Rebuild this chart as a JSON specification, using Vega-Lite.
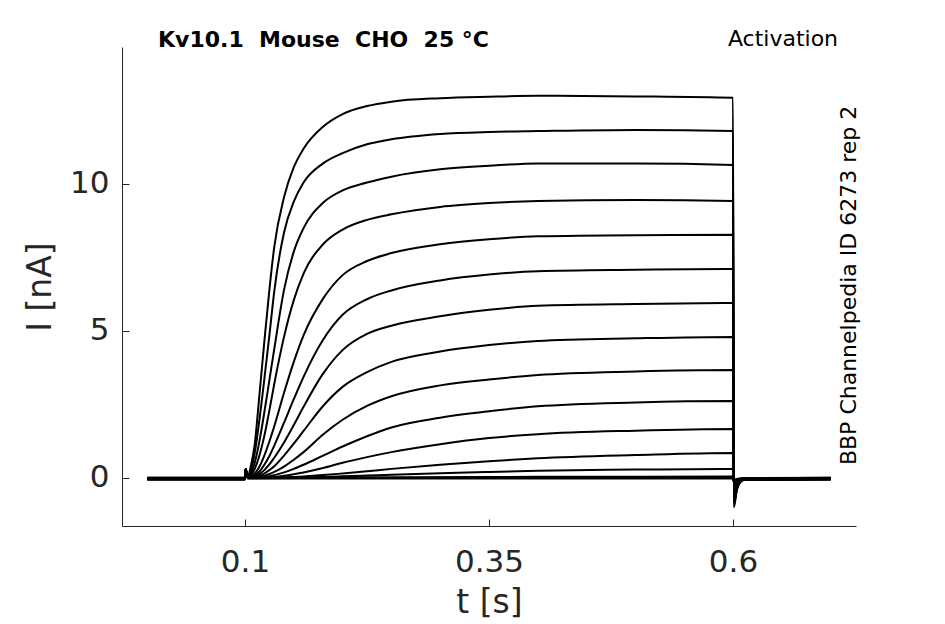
{
  "$schema": "https://vega.github.io/schema/vega-lite/v6.json",
  "width": 734,
  "height": 479,
  "autosize": {"type": "none"},
  "padding": {"left": 122, "top": 47, "right": 89, "bottom": 98},
  "background": "white",
  "data": {
    "values": [
      {"k":1,"t":0,"i":-0.03},{"k":1,"t":0.1,"i":-0.03},{"k":1,"t":0.1006,"i":0.3},{"k":1,"t":0.103,"i":0.065},{"k":1,"t":0.106,"i":0.4},{"k":1,"t":0.11,"i":1.15},{"k":1,"t":0.115,"i":2.9},{"k":1,"t":0.12,"i":4.7},{"k":1,"t":0.125,"i":6.4},{"k":1,"t":0.13,"i":7.86},{"k":1,"t":0.14,"i":9.55},{"k":1,"t":0.15,"i":10.57},{"k":1,"t":0.16,"i":11.2},{"k":1,"t":0.18,"i":11.95},{"k":1,"t":0.2,"i":12.38},{"k":1,"t":0.225,"i":12.65},{"k":1,"t":0.25,"i":12.8},{"k":1,"t":0.3,"i":12.92},{"k":1,"t":0.35,"i":12.97},{"k":1,"t":0.4,"i":13.0},{"k":1,"t":0.5,"i":12.98},{"k":1,"t":0.6,"i":12.93},{"k":1,"t":0.6008,"i":-1.0},{"k":1,"t":0.604,"i":-0.4},{"k":1,"t":0.607,"i":-0.17},{"k":1,"t":0.612,"i":-0.05},{"k":1,"t":0.7,"i":-0.03},
      {"k":2,"t":0,"i":-0.01},{"k":2,"t":0.1,"i":-0.01},{"k":2,"t":0.1006,"i":0.3},{"k":2,"t":0.103,"i":0.04},{"k":2,"t":0.106,"i":0.25},{"k":2,"t":0.11,"i":0.86},{"k":2,"t":0.115,"i":2.03},{"k":2,"t":0.12,"i":3.41},{"k":2,"t":0.125,"i":4.85},{"k":2,"t":0.13,"i":6.35},{"k":2,"t":0.14,"i":8.35},{"k":2,"t":0.15,"i":9.4},{"k":2,"t":0.16,"i":10.05},{"k":2,"t":0.18,"i":10.7},{"k":2,"t":0.2,"i":11.05},{"k":2,"t":0.225,"i":11.35},{"k":2,"t":0.25,"i":11.52},{"k":2,"t":0.3,"i":11.7},{"k":2,"t":0.35,"i":11.77},{"k":2,"t":0.4,"i":11.8},{"k":2,"t":0.5,"i":11.84},{"k":2,"t":0.6,"i":11.8},{"k":2,"t":0.6008,"i":-0.93},{"k":2,"t":0.604,"i":-0.37},{"k":2,"t":0.607,"i":-0.16},{"k":2,"t":0.612,"i":-0.03},{"k":2,"t":0.7,"i":-0.01},
      {"k":3,"t":0,"i":-0.04},{"k":3,"t":0.1,"i":-0.04},{"k":3,"t":0.1006,"i":0.3},{"k":3,"t":0.103,"i":0.02},{"k":3,"t":0.106,"i":0.145},{"k":3,"t":0.11,"i":0.52},{"k":3,"t":0.115,"i":1.29},{"k":3,"t":0.12,"i":2.27},{"k":3,"t":0.125,"i":3.33},{"k":3,"t":0.13,"i":4.39},{"k":3,"t":0.14,"i":6.4},{"k":3,"t":0.15,"i":7.7},{"k":3,"t":0.16,"i":8.5},{"k":3,"t":0.18,"i":9.36},{"k":3,"t":0.2,"i":9.78},{"k":3,"t":0.225,"i":10.05},{"k":3,"t":0.25,"i":10.25},{"k":3,"t":0.3,"i":10.5},{"k":3,"t":0.35,"i":10.62},{"k":3,"t":0.4,"i":10.7},{"k":3,"t":0.5,"i":10.7},{"k":3,"t":0.6,"i":10.65},{"k":3,"t":0.6008,"i":-0.85},{"k":3,"t":0.604,"i":-0.34},{"k":3,"t":0.607,"i":-0.14},{"k":3,"t":0.612,"i":-0.06},{"k":3,"t":0.7,"i":-0.04},
      {"k":4,"t":0,"i":0.0},{"k":4,"t":0.1,"i":0.0},{"k":4,"t":0.1006,"i":0.3},{"k":4,"t":0.103,"i":0.012},{"k":4,"t":0.106,"i":0.08},{"k":4,"t":0.11,"i":0.31},{"k":4,"t":0.115,"i":0.79},{"k":4,"t":0.12,"i":1.46},{"k":4,"t":0.125,"i":2.3},{"k":4,"t":0.13,"i":3.2},{"k":4,"t":0.14,"i":4.8},{"k":4,"t":0.15,"i":6.05},{"k":4,"t":0.16,"i":6.95},{"k":4,"t":0.18,"i":7.95},{"k":4,"t":0.2,"i":8.45},{"k":4,"t":0.225,"i":8.78},{"k":4,"t":0.25,"i":8.97},{"k":4,"t":0.3,"i":9.22},{"k":4,"t":0.35,"i":9.35},{"k":4,"t":0.4,"i":9.42},{"k":4,"t":0.5,"i":9.46},{"k":4,"t":0.6,"i":9.42},{"k":4,"t":0.6008,"i":-0.77},{"k":4,"t":0.604,"i":-0.31},{"k":4,"t":0.607,"i":-0.13},{"k":4,"t":0.612,"i":-0.02},{"k":4,"t":0.7,"i":0.0},
      {"k":5,"t":0,"i":-0.02},{"k":5,"t":0.1,"i":-0.02},{"k":5,"t":0.1006,"i":0.3},{"k":5,"t":0.103,"i":0.005},{"k":5,"t":0.106,"i":0.04},{"k":5,"t":0.11,"i":0.15},{"k":5,"t":0.115,"i":0.4},{"k":5,"t":0.12,"i":0.78},{"k":5,"t":0.125,"i":1.24},{"k":5,"t":0.13,"i":1.76},{"k":5,"t":0.14,"i":2.9},{"k":5,"t":0.15,"i":3.95},{"k":5,"t":0.16,"i":4.85},{"k":5,"t":0.18,"i":6.1},{"k":5,"t":0.2,"i":6.9},{"k":5,"t":0.225,"i":7.38},{"k":5,"t":0.25,"i":7.65},{"k":5,"t":0.3,"i":7.95},{"k":5,"t":0.35,"i":8.12},{"k":5,"t":0.4,"i":8.22},{"k":5,"t":0.5,"i":8.26},{"k":5,"t":0.6,"i":8.27},{"k":5,"t":0.6008,"i":-0.69},{"k":5,"t":0.604,"i":-0.28},{"k":5,"t":0.607,"i":-0.12},{"k":5,"t":0.612,"i":-0.04},{"k":5,"t":0.7,"i":-0.02},
      {"k":6,"t":0,"i":-0.05},{"k":6,"t":0.1,"i":-0.05},{"k":6,"t":0.1006,"i":0.3},{"k":6,"t":0.103,"i":0.003},{"k":6,"t":0.106,"i":0.02},{"k":6,"t":0.11,"i":0.08},{"k":6,"t":0.115,"i":0.23},{"k":6,"t":0.12,"i":0.46},{"k":6,"t":0.125,"i":0.75},{"k":6,"t":0.13,"i":1.1},{"k":6,"t":0.14,"i":1.88},{"k":6,"t":0.15,"i":2.68},{"k":6,"t":0.16,"i":3.44},{"k":6,"t":0.18,"i":4.7},{"k":6,"t":0.2,"i":5.55},{"k":6,"t":0.225,"i":6.08},{"k":6,"t":0.25,"i":6.38},{"k":6,"t":0.3,"i":6.72},{"k":6,"t":0.35,"i":6.92},{"k":6,"t":0.4,"i":7.03},{"k":6,"t":0.5,"i":7.08},{"k":6,"t":0.6,"i":7.11},{"k":6,"t":0.6008,"i":-0.62},{"k":6,"t":0.604,"i":-0.25},{"k":6,"t":0.607,"i":-0.11},{"k":6,"t":0.612,"i":-0.07},{"k":6,"t":0.7,"i":-0.05},
      {"k":7,"t":0,"i":-0.01},{"k":7,"t":0.1,"i":-0.01},{"k":7,"t":0.1006,"i":0.3},{"k":7,"t":0.103,"i":0.002},{"k":7,"t":0.106,"i":0.012},{"k":7,"t":0.11,"i":0.047},{"k":7,"t":0.115,"i":0.136},{"k":7,"t":0.12,"i":0.275},{"k":7,"t":0.125,"i":0.46},{"k":7,"t":0.13,"i":0.69},{"k":7,"t":0.14,"i":1.21},{"k":7,"t":0.15,"i":1.8},{"k":7,"t":0.16,"i":2.42},{"k":7,"t":0.18,"i":3.55},{"k":7,"t":0.2,"i":4.35},{"k":7,"t":0.225,"i":4.9},{"k":7,"t":0.25,"i":5.18},{"k":7,"t":0.3,"i":5.5},{"k":7,"t":0.35,"i":5.72},{"k":7,"t":0.4,"i":5.86},{"k":7,"t":0.5,"i":5.92},{"k":7,"t":0.6,"i":5.95},{"k":7,"t":0.6008,"i":-0.54},{"k":7,"t":0.604,"i":-0.22},{"k":7,"t":0.607,"i":-0.09},{"k":7,"t":0.612,"i":-0.03},{"k":7,"t":0.7,"i":-0.01},
      {"k":8,"t":0,"i":-0.03},{"k":8,"t":0.1,"i":-0.03},{"k":8,"t":0.1006,"i":0.3},{"k":8,"t":0.103,"i":0.001},{"k":8,"t":0.106,"i":0.006},{"k":8,"t":0.11,"i":0.026},{"k":8,"t":0.115,"i":0.076},{"k":8,"t":0.12,"i":0.156},{"k":8,"t":0.125,"i":0.27},{"k":8,"t":0.13,"i":0.4},{"k":8,"t":0.14,"i":0.76},{"k":8,"t":0.15,"i":1.17},{"k":8,"t":0.16,"i":1.6},{"k":8,"t":0.18,"i":2.45},{"k":8,"t":0.2,"i":3.1},{"k":8,"t":0.225,"i":3.6},{"k":8,"t":0.25,"i":3.95},{"k":8,"t":0.3,"i":4.3},{"k":8,"t":0.35,"i":4.52},{"k":8,"t":0.4,"i":4.66},{"k":8,"t":0.5,"i":4.75},{"k":8,"t":0.6,"i":4.8},{"k":8,"t":0.6008,"i":-0.47},{"k":8,"t":0.604,"i":-0.19},{"k":8,"t":0.607,"i":-0.08},{"k":8,"t":0.612,"i":-0.05},{"k":8,"t":0.7,"i":-0.03},
      {"k":9,"t":0,"i":0.01},{"k":9,"t":0.1,"i":0.01},{"k":9,"t":0.1006,"i":0.3},{"k":9,"t":0.103,"i":0.0},{"k":9,"t":0.106,"i":0.003},{"k":9,"t":0.11,"i":0.012},{"k":9,"t":0.115,"i":0.036},{"k":9,"t":0.12,"i":0.077},{"k":9,"t":0.125,"i":0.134},{"k":9,"t":0.13,"i":0.207},{"k":9,"t":0.14,"i":0.39},{"k":9,"t":0.15,"i":0.62},{"k":9,"t":0.16,"i":0.88},{"k":9,"t":0.18,"i":1.48},{"k":9,"t":0.2,"i":1.98},{"k":9,"t":0.225,"i":2.45},{"k":9,"t":0.25,"i":2.78},{"k":9,"t":0.3,"i":3.15},{"k":9,"t":0.35,"i":3.35},{"k":9,"t":0.4,"i":3.5},{"k":9,"t":0.5,"i":3.62},{"k":9,"t":0.6,"i":3.67},{"k":9,"t":0.6008,"i":-0.39},{"k":9,"t":0.604,"i":-0.16},{"k":9,"t":0.607,"i":-0.07},{"k":9,"t":0.612,"i":-0.01},{"k":9,"t":0.7,"i":0.01},
      {"k":10,"t":0,"i":-0.04},{"k":10,"t":0.1,"i":-0.04},{"k":10,"t":0.1006,"i":0.3},{"k":10,"t":0.103,"i":0.0},{"k":10,"t":0.106,"i":0.001},{"k":10,"t":0.11,"i":0.005},{"k":10,"t":0.115,"i":0.016},{"k":10,"t":0.12,"i":0.035},{"k":10,"t":0.125,"i":0.062},{"k":10,"t":0.13,"i":0.097},{"k":10,"t":0.14,"i":0.19},{"k":10,"t":0.15,"i":0.31},{"k":10,"t":0.16,"i":0.45},{"k":10,"t":0.18,"i":0.76},{"k":10,"t":0.2,"i":1.07},{"k":10,"t":0.225,"i":1.42},{"k":10,"t":0.25,"i":1.72},{"k":10,"t":0.3,"i":2.05},{"k":10,"t":0.35,"i":2.27},{"k":10,"t":0.4,"i":2.44},{"k":10,"t":0.5,"i":2.57},{"k":10,"t":0.6,"i":2.62},{"k":10,"t":0.6008,"i":-0.32},{"k":10,"t":0.604,"i":-0.13},{"k":10,"t":0.607,"i":-0.05},{"k":10,"t":0.612,"i":-0.06},{"k":10,"t":0.7,"i":-0.04},
      {"k":11,"t":0,"i":-0.02},{"k":11,"t":0.1,"i":-0.02},{"k":11,"t":0.1006,"i":0.3},{"k":11,"t":0.103,"i":0.0},{"k":11,"t":0.106,"i":0.0},{"k":11,"t":0.11,"i":0.002},{"k":11,"t":0.115,"i":0.006},{"k":11,"t":0.12,"i":0.013},{"k":11,"t":0.125,"i":0.024},{"k":11,"t":0.13,"i":0.038},{"k":11,"t":0.14,"i":0.077},{"k":11,"t":0.15,"i":0.13},{"k":11,"t":0.16,"i":0.19},{"k":11,"t":0.18,"i":0.34},{"k":11,"t":0.2,"i":0.52},{"k":11,"t":0.225,"i":0.71},{"k":11,"t":0.25,"i":0.88},{"k":11,"t":0.3,"i":1.15},{"k":11,"t":0.35,"i":1.36},{"k":11,"t":0.4,"i":1.49},{"k":11,"t":0.5,"i":1.61},{"k":11,"t":0.6,"i":1.67},{"k":11,"t":0.6008,"i":-0.26},{"k":11,"t":0.604,"i":-0.1},{"k":11,"t":0.607,"i":-0.04},{"k":11,"t":0.612,"i":-0.04},{"k":11,"t":0.7,"i":-0.02},
      {"k":12,"t":0,"i":0.0},{"k":12,"t":0.1,"i":0.0},{"k":12,"t":0.1006,"i":0.3},{"k":12,"t":0.103,"i":0.0},{"k":12,"t":0.12,"i":0.003},{"k":12,"t":0.125,"i":0.006},{"k":12,"t":0.13,"i":0.009},{"k":12,"t":0.14,"i":0.019},{"k":12,"t":0.15,"i":0.034},{"k":12,"t":0.16,"i":0.052},{"k":12,"t":0.18,"i":0.098},{"k":12,"t":0.2,"i":0.154},{"k":12,"t":0.225,"i":0.23},{"k":12,"t":0.25,"i":0.31},{"k":12,"t":0.3,"i":0.45},{"k":12,"t":0.35,"i":0.57},{"k":12,"t":0.4,"i":0.67},{"k":12,"t":0.5,"i":0.78},{"k":12,"t":0.6,"i":0.85},{"k":12,"t":0.6008,"i":-0.21},{"k":12,"t":0.604,"i":-0.08},{"k":12,"t":0.607,"i":-0.04},{"k":12,"t":0.612,"i":-0.02},{"k":12,"t":0.7,"i":0.0},
      {"k":13,"t":0,"i":-0.03},{"k":13,"t":0.1,"i":-0.03},{"k":13,"t":0.1006,"i":0.3},{"k":13,"t":0.103,"i":0.0},{"k":13,"t":0.12,"i":0.001},{"k":13,"t":0.125,"i":0.002},{"k":13,"t":0.13,"i":0.003},{"k":13,"t":0.14,"i":0.007},{"k":13,"t":0.15,"i":0.012},{"k":13,"t":0.16,"i":0.019},{"k":13,"t":0.18,"i":0.036},{"k":13,"t":0.2,"i":0.056},{"k":13,"t":0.225,"i":0.084},{"k":13,"t":0.25,"i":0.113},{"k":13,"t":0.3,"i":0.164},{"k":13,"t":0.35,"i":0.208},{"k":13,"t":0.4,"i":0.245},{"k":13,"t":0.5,"i":0.285},{"k":13,"t":0.6,"i":0.31},{"k":13,"t":0.6008,"i":-0.17},{"k":13,"t":0.604,"i":-0.07},{"k":13,"t":0.607,"i":-0.03},{"k":13,"t":0.612,"i":-0.05},{"k":13,"t":0.7,"i":-0.03},
      {"k":14,"t":0,"i":-0.01},{"k":14,"t":0.1,"i":-0.01},{"k":14,"t":0.1006,"i":0.3},{"k":14,"t":0.103,"i":-0.01},{"k":14,"t":0.2,"i":0.01},{"k":14,"t":0.3,"i":0.025},{"k":14,"t":0.4,"i":0.038},{"k":14,"t":0.5,"i":0.046},{"k":14,"t":0.6,"i":0.05},{"k":14,"t":0.6008,"i":-0.15},{"k":14,"t":0.604,"i":-0.06},{"k":14,"t":0.612,"i":-0.03},{"k":14,"t":0.7,"i":-0.01},
      {"k":15,"t":0,"i":-0.05},{"k":15,"t":0.1,"i":-0.05},{"k":15,"t":0.1006,"i":0.3},{"k":15,"t":0.103,"i":0.02},{"k":15,"t":0.6,"i":0.02},{"k":15,"t":0.6008,"i":-0.12},{"k":15,"t":0.604,"i":-0.05},{"k":15,"t":0.612,"i":-0.06},{"k":15,"t":0.7,"i":-0.05},
      {"k":16,"t":0,"i":-0.02},{"k":16,"t":0.1,"i":-0.02},{"k":16,"t":0.1006,"i":0.28},{"k":16,"t":0.103,"i":0.0},{"k":16,"t":0.6,"i":0.0},{"k":16,"t":0.6008,"i":-0.1},{"k":16,"t":0.604,"i":-0.04},{"k":16,"t":0.612,"i":-0.03},{"k":16,"t":0.7,"i":-0.02},
      {"k":17,"t":0,"i":0.01},{"k":17,"t":0.1,"i":0.01},{"k":17,"t":0.1006,"i":0.25},{"k":17,"t":0.103,"i":-0.02},{"k":17,"t":0.6,"i":-0.02},{"k":17,"t":0.6008,"i":-0.08},{"k":17,"t":0.604,"i":-0.03},{"k":17,"t":0.612,"i":0.0},{"k":17,"t":0.7,"i":0.01}
    ]
  },
  "layer": [
    {
      "mark": {"type": "line", "color": "black", "strokeWidth": 2, "strokeJoin": "round", "interpolate": "monotone"},
      "encoding": {
        "x": {
          "field": "t",
          "type": "quantitative",
          "scale": {"domain": [-0.026, 0.726], "nice": false, "zero": false},
          "axis": {"values": [0.1, 0.35, 0.6], "format": "~g", "title": "t [s]", "labelPadding": 28, "titleY": 86, "titleBaseline": "alphabetic"}
        },
        "y": {
          "field": "i",
          "type": "quantitative",
          "scale": {"domain": [-1.633, 14.66], "nice": false, "zero": false},
          "axis": {"values": [0, 5, 10], "format": "~g", "title": "I [nA]", "labelPadding": 20, "titleX": -72, "titleBaseline": "alphabetic"}
        },
        "detail": {"field": "k", "type": "nominal"}
      }
    },
    {
      "data": {"values": [{}]},
      "mark": {"type": "text", "text": "Kv10.1\u00a0 Mouse\u00a0 CHO\u00a0 25 °C", "align": "left", "baseline": "alphabetic", "font": "DejaVu Sans", "fontSize": 22, "fontWeight": "bold", "color": "black"},
      "encoding": {"x": {"datum": 0.0109}, "y": {"datum": 14.66}}
    },
    {
      "data": {"values": [{}]},
      "mark": {"type": "text", "text": "Activation", "align": "right", "baseline": "alphabetic", "font": "DejaVu Sans", "fontSize": 22, "color": "black"},
      "encoding": {"x": {"datum": 0.7076}, "y": {"datum": 14.7}}
    },
    {
      "data": {"values": [{}]},
      "mark": {"type": "text", "text": "BBP Channelpedia ID 6273 rep 2", "angle": 270, "align": "center", "baseline": "alphabetic", "font": "DejaVu Sans", "fontSize": 22, "color": "black"},
      "encoding": {"x": {"datum": 0.726}, "y": {"datum": 6.55}}
    }
  ],
  "config": {
    "view": {"stroke": null},
    "axis": {
      "grid": false,
      "domainColor": "#262626",
      "domainWidth": 1,
      "tickColor": "#262626",
      "tickWidth": 1,
      "tickSize": -7,
      "labelColor": "#262626",
      "titleColor": "#262626",
      "labelFont": "DejaVu Sans",
      "titleFont": "DejaVu Sans",
      "labelFontSize": 31,
      "titleFontSize": 33,
      "titleFontWeight": "normal"
    }
  }
}
